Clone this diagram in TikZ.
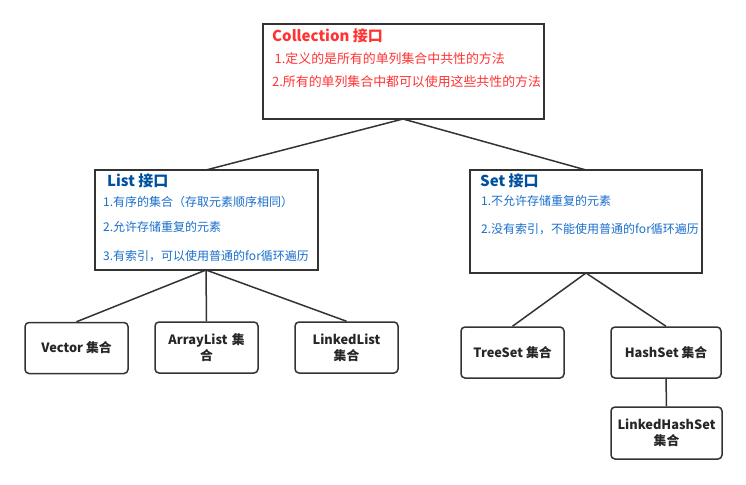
\documentclass[tikz,border=0pt]{standalone}
\usepackage{fontspec}
\setmainfont{Noto Sans CJK SC}
\definecolor{cred}{HTML}{FF3333}
\definecolor{ctitle}{HTML}{0050A0}
\definecolor{cblue}{HTML}{1A6FCC}
\definecolor{cline}{HTML}{333333}
\begin{document}
\begin{tikzpicture}[x=1pt,y=-1pt,
  bigbox/.style={draw=cline,line width=2pt,fill=white},
  leaf/.style={draw=cline,line width=1.5pt,rounded corners=4pt,fill=white,align=center,font=\bfseries\fontsize{12.8}{16}\selectfont,text=black!85},
  conn/.style={draw=cline,line width=1.5pt},
  ttl/.style={anchor=west,inner sep=0pt,font=\bfseries\fontsize{15}{17}\selectfont},
  body/.style={anchor=west,inner sep=0pt,font=\fontsize{12}{14}\selectfont},
  cbody/.style={anchor=west,inner sep=0pt,font=\fontsize{12.9}{15}\selectfont}]
\useasboundingbox (0,0) rectangle (746,484);
% big boxes
\path[bigbox] (263,24) rectangle (544,119);
\coordinate (colB) at (403,119);
\path[bigbox] (95,170) rectangle (318,270);
\coordinate (listT) at (206,170);
\coordinate (listB) at (206,270);
\path[bigbox] (470,170) rectangle (702,273);
\coordinate (setT) at (586,170);
\coordinate (setB) at (586,273);
% connectors
\draw[conn] (colB) -- (listT);
\draw[conn] (colB) -- (setT);
% leaves
\node[leaf,minimum width=103pt,minimum height=51pt] (vec) at (76.5,348) {Vector 集合};
\node[leaf,minimum width=103pt,minimum height=51pt,text width=82pt] (arr) at (206.5,347.5) {ArrayList 集\\合};
\node[leaf,minimum width=103pt,minimum height=51pt,text width=82pt] (lnk) at (346.5,347.5) {LinkedList\\集合};
\node[leaf,minimum width=103pt,minimum height=51pt] (tree) at (512.5,352.5) {TreeSet 集合};
\node[leaf,minimum width=110pt,minimum height=51pt] (hash) at (666,352.5) {HashSet 集合};
\node[leaf,minimum width=111pt,minimum height=52pt,text width=100pt] (lhs) at (666.5,433) {LinkedHashSet\\集合};
\draw[conn] (listB) -- (vec.north);
\draw[conn] (listB) -- (arr.north);
\draw[conn] (listB) -- (lnk.north);
\draw[conn] (setB) -- (tree.north);
\draw[conn] (setB) -- (hash.north);
\draw[conn] (hash.south) -- (lhs.north);
% texts
\node[ttl,text=cred] (ct) at (272,35.5) {Collection 接口};
\node[cbody,text=cred] (c1) at (274.5,58.5) {1.定义的是所有的单列集合中共性的方法};
\node[cbody,text=cred] (c2) at (272,82) {2.所有的单列集合中都可以使用这些共性的方法};
\node[ttl,text=ctitle] (lt) at (107,181) {List 接口};
\node[body,text=cblue] (l1) at (103,202) {1.有序的集合（存取元素顺序相同）};
\node[body,text=cblue] (l2) at (103,227) {2.允许存储重复的元素};
\node[body,text=cblue] (l3) at (103,256) {3.有索引，可以使用普通的for循环遍历};
\node[ttl,text=ctitle] (st) at (480,181) {Set 接口};
\node[body,text=cblue] (s1) at (481,201) {1.不允许存储重复的元素};
\node[body,text=cblue] (s2) at (481,229) {2.没有索引，不能使用普通的for循环遍历};
\end{tikzpicture}
\end{document}
